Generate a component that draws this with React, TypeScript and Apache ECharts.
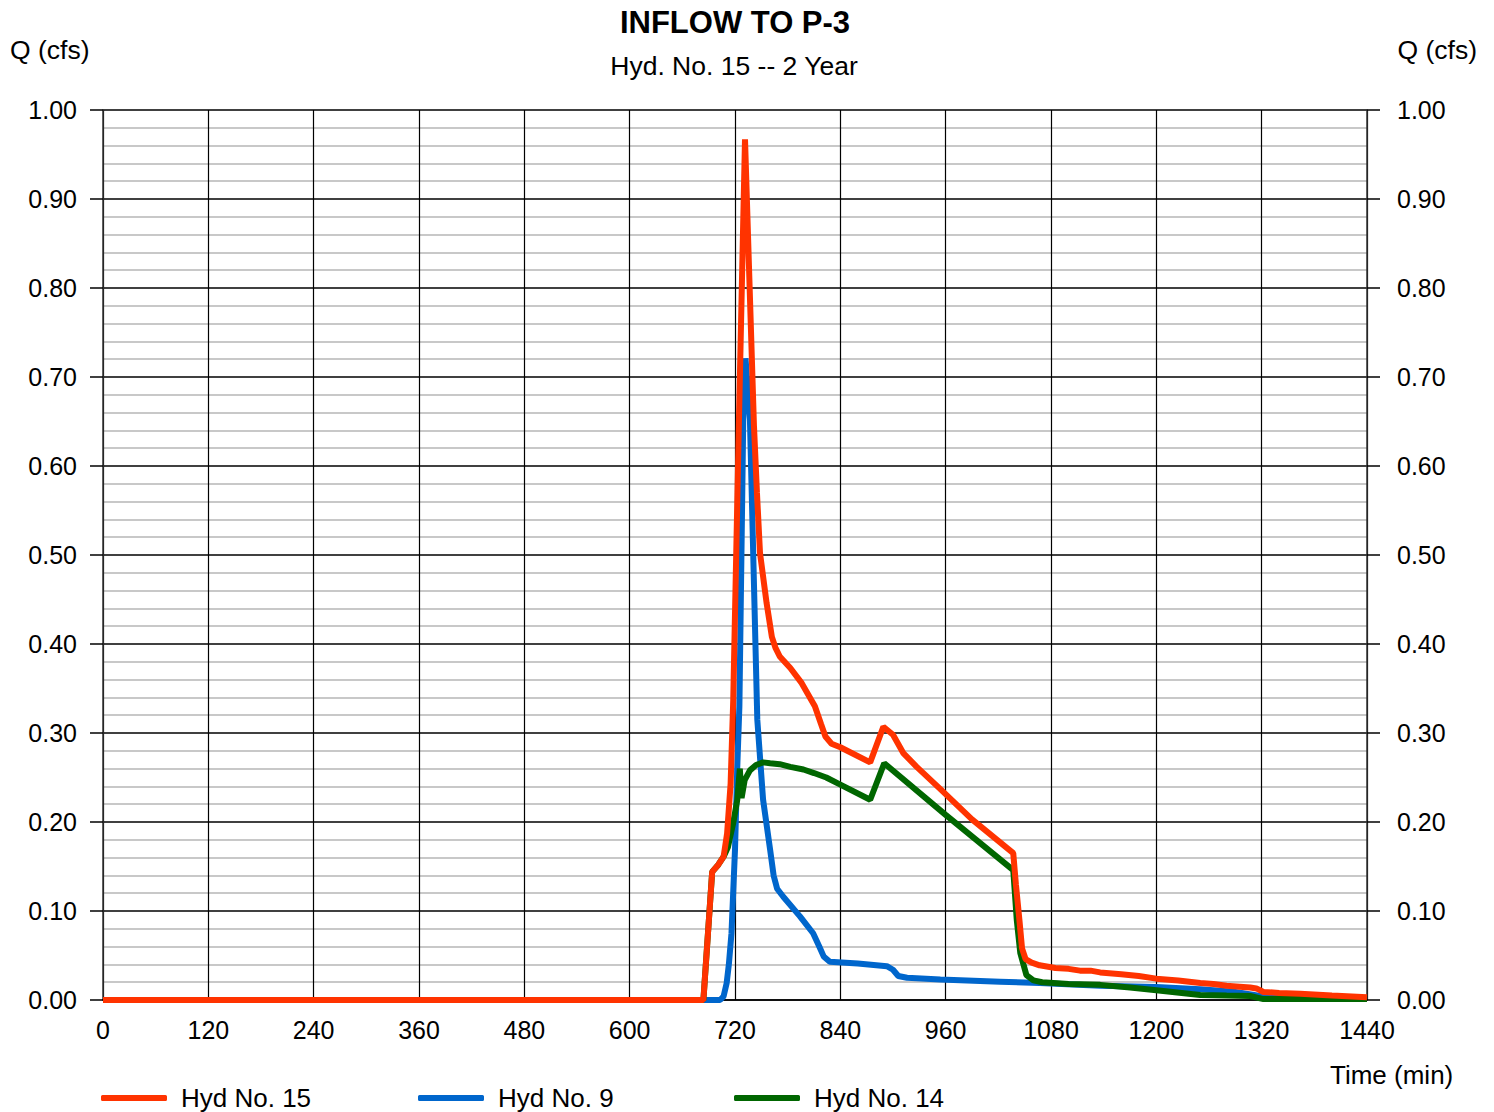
import React, { useEffect, useRef } from "react";
import * as echarts from "echarts";

const FONT = "'Liberation Sans', Arial, sans-serif";

// Hyd No. 15 (combined inflow)
const redT = [0, 684, 694, 701, 707, 711, 715, 718, 724.5, 731.4, 741.6, 745, 748.5, 756, 762, 766, 771, 783, 796, 811, 818, 823, 830, 840, 874, 889, 900, 912, 927, 954, 990, 1037, 1040, 1044, 1047, 1051, 1058, 1067, 1085, 1100, 1113, 1125, 1136, 1160, 1180, 1200, 1225, 1250, 1265, 1280, 1295, 1307, 1314, 1322, 1340, 1364, 1400, 1440];
const redV = [0, 0, 0.144, 0.152, 0.161, 0.187, 0.243, 0.337, 0.652, 0.967, 0.645, 0.57, 0.502, 0.446, 0.408, 0.396, 0.386, 0.373, 0.356, 0.330, 0.31, 0.296, 0.288, 0.284, 0.267, 0.307, 0.298, 0.277, 0.262, 0.237, 0.203, 0.165, 0.13, 0.09, 0.058, 0.046, 0.042, 0.039, 0.036, 0.035, 0.033, 0.033, 0.031, 0.029, 0.027, 0.024, 0.022, 0.019, 0.018, 0.016, 0.015, 0.014, 0.013, 0.009, 0.008, 0.007, 0.005, 0.003];

// Hyd No. 9
const blueT = [0, 703, 707, 710.5, 713, 716, 720, 722.6, 725, 729.4, 732, 737, 745.4, 752, 760, 764, 768, 775, 794, 809, 816, 821, 828, 860, 893, 900, 906, 916, 954, 1022, 1067, 1136, 1200, 1250, 1288, 1315, 1340, 1440];
const blueV = [0, 0, 0.004, 0.019, 0.04, 0.075, 0.169, 0.262, 0.33, 0.652, 0.721, 0.652, 0.315, 0.225, 0.169, 0.14, 0.125, 0.116, 0.094, 0.075, 0.06, 0.049, 0.043, 0.041, 0.038, 0.034, 0.027, 0.025, 0.023, 0.0206, 0.019, 0.016, 0.0146, 0.012, 0.0093, 0.005, 0.002, 0.001];

// Hyd No. 14
const greenT = [0, 684, 694, 701, 707, 712, 718, 722.6, 725.5, 727.5, 731, 737, 744, 752, 760, 771, 783, 798, 810, 824, 840, 874, 890, 960, 1037, 1041, 1045, 1052, 1060, 1070, 1100, 1136, 1170, 1200, 1250, 1280, 1307, 1322, 1440];
const greenV = [0, 0, 0.144, 0.152, 0.161, 0.172, 0.199, 0.225, 0.26, 0.227, 0.247, 0.258, 0.264, 0.267, 0.266, 0.265, 0.262, 0.259, 0.255, 0.25, 0.242, 0.225, 0.266, 0.208, 0.146, 0.09, 0.053, 0.028, 0.022, 0.020, 0.018, 0.017, 0.014, 0.011, 0.0056, 0.005, 0.0045, 0.001, 0.001];

const seriesNames = ["Hyd No. 15", "Hyd No. 9", "Hyd No. 14"];
const seriesColors = ["#ff3300", "#0066cc", "#006600"];

const pairs = (t: number[], v: number[]) => t.map((x, i) => [x, v[i]]);

export default function App() {
  const ref = useRef<HTMLDivElement>(null);
  useEffect(() => {
    if (!ref.current) return;
    document.body.style.margin = "0";
    document.body.style.overflow = "hidden";
    const chart = echarts.init(ref.current, null, { renderer: "svg" });
    const lbl = { fontFamily: FONT, fontSize: 25, color: "#000" };
    const mkLegend = (i: number, left: number) => ({
      data: [seriesNames[i]],
      left,
      top: 1082,
      padding: 2,
      itemWidth: 66,
      itemHeight: 6,
      icon: "roundRect",
      textStyle: { fontFamily: FONT, fontSize: 26, color: "#000", padding: [0, 0, 0, 9], lineHeight: 28 },
    });
    chart.setOption({
      animation: false,
      backgroundColor: "#fff",
      grid: { left: 103, right: 127, top: 110, bottom: 112, containLabel: false },
      legend: [mkLegend(0, 99), mkLegend(1, 416), mkLegend(2, 732)],
      xAxis: {
        type: "value",
        min: 0,
        max: 1440,
        interval: 120,
        axisLine: { show: true, lineStyle: { color: "#000", width: 1.5 } },
        axisTick: { show: false },
        axisLabel: { ...lbl, margin: 17, formatter: (v: number) => String(v) },
        splitLine: { show: true, lineStyle: { color: "#000", width: 1.2 } },
      },
      yAxis: [
        {
          type: "value",
          position: "left",
          min: 0,
          max: 1,
          interval: 0.1,
          axisLine: { show: true, lineStyle: { color: "#333", width: 1.5 } },
          axisTick: { show: true, length: 13, lineStyle: { color: "#000", width: 1.5 } },
          axisLabel: { ...lbl, margin: 26, formatter: (v: number) => v.toFixed(2) },
          splitLine: { show: true, lineStyle: { color: "#000", width: 1.5 } },
          minorTick: { show: false, splitNumber: 5 },
          minorSplitLine: { show: true, lineStyle: { color: "#c8c8c8", width: 2 } },
        },
        {
          type: "value",
          position: "right",
          min: 0,
          max: 1,
          interval: 0.1,
          axisLine: { show: true, lineStyle: { color: "#333", width: 1.5 } },
          axisTick: { show: true, length: 13, lineStyle: { color: "#000", width: 1.5 } },
          axisLabel: { ...lbl, margin: 30, formatter: (v: number) => v.toFixed(2) },
          splitLine: { show: false },
        },
      ],
      graphic: [
        { type: "text", x: 735, y: 22, style: { text: "INFLOW TO P-3", font: `bold 31px ${FONT}`, fill: "#000", align: "center", verticalAlign: "middle" } },
        { type: "text", x: 734, y: 66, style: { text: "Hyd. No. 15 -- 2 Year", font: `26.5px ${FONT}`, fill: "#000", align: "center", verticalAlign: "middle" } },
        { type: "text", x: 10, y: 50, style: { text: "Q (cfs)", font: `26.5px ${FONT}`, fill: "#000", align: "left", verticalAlign: "middle" } },
        { type: "text", x: 1477, y: 50, style: { text: "Q (cfs)", font: `26.5px ${FONT}`, fill: "#000", align: "right", verticalAlign: "middle" } },
        { type: "text", x: 1330, y: 1075, style: { text: "Time (min)", font: `26px ${FONT}`, fill: "#000", align: "left", verticalAlign: "middle" } },
      ],
      series: [
        { name: seriesNames[1], type: "line", data: pairs(blueT, blueV), showSymbol: false, symbol: "none", color: seriesColors[1], lineStyle: { width: 6, color: seriesColors[1] } },
        { name: seriesNames[2], type: "line", data: pairs(greenT, greenV), showSymbol: false, symbol: "none", color: seriesColors[2], lineStyle: { width: 6, color: seriesColors[2] } },
        { name: seriesNames[0], type: "line", data: pairs(redT, redV), showSymbol: false, symbol: "none", color: seriesColors[0], lineStyle: { width: 6, color: seriesColors[0] } },
      ],
    });
    return () => chart.dispose();
  }, []);
  return <div ref={ref} style={{ position: "absolute", left: 0, top: 0, width: 1494, height: 1112 }} />;
}
